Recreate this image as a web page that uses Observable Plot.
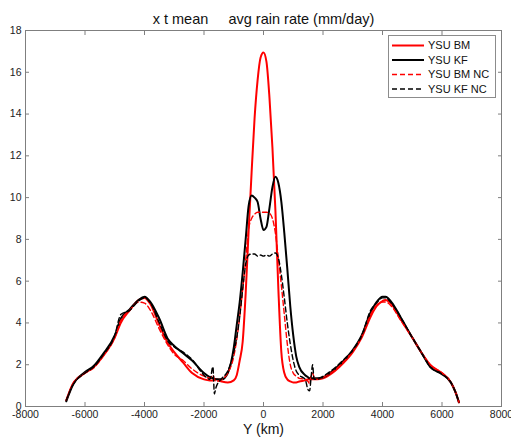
<!DOCTYPE html>
<html><head><meta charset="utf-8">
<script src="https://cdn.jsdelivr.net/npm/d3@7"></script>
<script src="https://cdn.jsdelivr.net/npm/@observablehq/plot@0.6"></script>
<style>body{margin:0;background:#fff} svg{display:block}</style>
</head><body><div id="chart"></div>
<script>
const xKm = [-6630,-6400,-6000,-5700,-5400,-5000,-4800,-4500,-4200,-4000,-3800,-3500,-3200,-3000,-2700,-2400,-2000,-1800,-1700,-1650,-1600,-1400,-1200,-1000,-900,-800,-700,-600,-500,-400,-300,-200,-100,0,100,200,300,400,500,600,700,800,900,1000,1100,1200,1400,1500,1550,1600,1650,1700,1800,2000,2400,2700,3000,3300,3600,3800,4000,4100,4300,4600,5000,5300,5600,6000,6300,6450,6570];

const ysuBM = [0.3,1.1,1.6,1.9,2.4,3.3,4.0,4.6,5.1,5.2,4.9,3.9,3.0,2.6,2.1,1.6,1.3,1.25,1.25,1.3,1.3,1.2,1.15,1.25,1.5,2.2,3.1,5.4,8.4,11.2,13.8,15.6,16.7,16.95,16.5,14.8,12.4,9.4,5.6,2.6,1.6,1.3,1.2,1.15,1.15,1.2,1.25,1.3,1.3,1.3,1.3,1.3,1.3,1.35,1.7,2.1,2.6,3.3,4.3,4.8,5.05,5.1,4.9,4.2,3.3,2.6,2.0,1.6,1.15,0.7,0.2];

const ysuKF = [0.25,1.05,1.65,1.95,2.5,3.4,4.2,4.65,5.1,5.25,5.0,4.2,3.2,2.9,2.55,2.2,1.6,1.4,1.35,1.3,1.3,1.3,1.6,2.8,3.9,5.0,6.4,8.0,9.6,10.1,10.0,9.8,9.0,8.45,8.6,9.5,10.5,11.0,10.7,9.8,8.3,6.6,4.8,3.4,2.4,1.9,1.5,1.4,1.35,1.35,1.35,1.35,1.35,1.4,1.8,2.2,2.7,3.4,4.5,5.0,5.25,5.25,5.0,4.3,3.3,2.6,1.9,1.55,1.15,0.7,0.2];

const ysuBMNC = [0.3,1.1,1.6,1.85,2.4,3.3,4.1,4.6,5.0,4.95,4.6,3.7,2.9,2.5,2.2,1.8,1.45,1.35,1.5,1.3,1.2,1.3,1.6,2.4,3.2,4.3,5.6,7.0,8.5,9.0,9.2,9.3,9.3,9.3,9.3,9.25,9.0,8.3,7.1,5.8,4.4,3.0,2.0,1.6,1.45,1.35,1.3,1.2,1.1,1.5,1.6,1.4,1.3,1.4,1.75,2.15,2.65,3.35,4.4,4.85,5.0,5.0,4.8,4.15,3.3,2.6,2.0,1.6,1.15,0.7,0.2];

const ysuKFNC = [0.3,1.05,1.6,1.9,2.45,3.4,4.4,4.6,5.05,5.2,4.95,4.0,3.1,2.85,2.6,2.25,1.5,1.3,1.9,0.6,0.9,1.35,1.7,2.6,3.3,4.3,5.6,6.8,7.25,7.3,7.3,7.2,7.25,7.2,7.25,7.2,7.3,7.35,7.1,6.3,5.2,4.0,3.0,2.2,1.7,1.5,1.3,0.8,0.75,1.4,2.0,1.3,1.3,1.45,1.85,2.25,2.7,3.4,4.6,4.95,5.2,5.2,4.95,4.3,3.3,2.6,1.9,1.55,1.15,0.7,0.2];

const seriesNames = ["YSU BM","YSU KF","YSU BM NC","YSU KF NC"];
const seriesValues = [ysuBM, ysuKF, ysuBMNC, ysuKFNC];
const seriesColors = ["#ff0000","#000000","#ff0000","#000000"];
const seriesDash = [null, null, "5,3", "5,3"];
const seriesWidth = [2, 2, 1.4, 1.4];

const xTicks = [-8000,-6000,-4000,-2000,0,2000,4000,6000,8000];
const yTicks = [0,2,4,6,8,10,12,14,16,18];

const data = seriesNames.flatMap((name, s) => xKm.map((x, i) => ({series: name, x, y: seriesValues[s][i]})));

const lineMarks = seriesNames.map((name, s) => Plot.line(data.filter(d => d.series === name), {
  x: "x", y: "y", stroke: seriesColors[s], strokeWidth: seriesWidth[s],
  strokeDasharray: seriesDash[s], curve: "monotone-x"
}));

const fmt = d => String(d);
const axisColor = "#7f7f7f";

const chart = Plot.plot({
  width: 511, height: 439,
  marginLeft: 25, marginRight: 10, marginTop: 30, marginBottom: 33,
  style: {fontFamily: "'Liberation Sans', Arial, sans-serif", fontSize: "10.5px", color: "#222", background: "white"},
  x: {domain: [-8000, 8000]},
  y: {domain: [0, 18]},
  marks: [
    Plot.frame({stroke: axisColor}),
    Plot.axisX(xTicks, {anchor: "bottom", tickSize: 0, tickPadding: 4, tickFormat: fmt, label: null}),
    Plot.axisX(xTicks, {anchor: "bottom", tickSize: -4, tickFormat: () => "", label: null, stroke: axisColor}),
    Plot.axisX(xTicks, {anchor: "top", tickSize: -4, tickFormat: () => "", label: null, stroke: axisColor}),
    Plot.axisY(yTicks, {anchor: "left", tickSize: 0, tickPadding: 4, tickFormat: fmt, label: null}),
    Plot.axisY(yTicks, {anchor: "left", tickSize: -4, tickFormat: () => "", label: null, stroke: axisColor}),
    Plot.axisY(yTicks, {anchor: "right", tickSize: -4, tickFormat: () => "", label: null, stroke: axisColor}),
    ...lineMarks,
    Plot.text(["x t mean\u00a0\u00a0\u00a0\u00a0 avg rain rate (mm/day)"], {frameAnchor: "top", lineAnchor: "bottom", dy: -7, fontSize: 14.5, fill: "#111"}),
    Plot.text(["Y (km)"], {frameAnchor: "bottom", lineAnchor: "bottom", dy: 27, fontSize: 14, fill: "#111"})
  ]
});

document.getElementById("chart").appendChild(chart);

// legend
const svg = d3.select(chart);
const lg = svg.append("g").attr("font-family", "'Liberation Sans', Arial, sans-serif").attr("font-size", 11).attr("text-anchor", "start");
lg.append("rect").attr("x", 388.5).attr("y", 35.5).attr("width", 107).attr("height", 62)
  .attr("fill", "white").attr("stroke", "#8c8c8c");
seriesNames.forEach((name, s) => {
  const yy = 45.5 + s * 14.5;
  lg.append("line").attr("x1", 392).attr("x2", 424).attr("y1", yy).attr("y2", yy)
    .attr("stroke", seriesColors[s]).attr("stroke-width", seriesWidth[s])
    .attr("stroke-dasharray", seriesDash[s]);
  lg.append("text").attr("x", 428).attr("y", yy).attr("dy", "0.35em").attr("text-anchor", "start").attr("fill", "#111").text(name);
});
</script>
</body></html>
